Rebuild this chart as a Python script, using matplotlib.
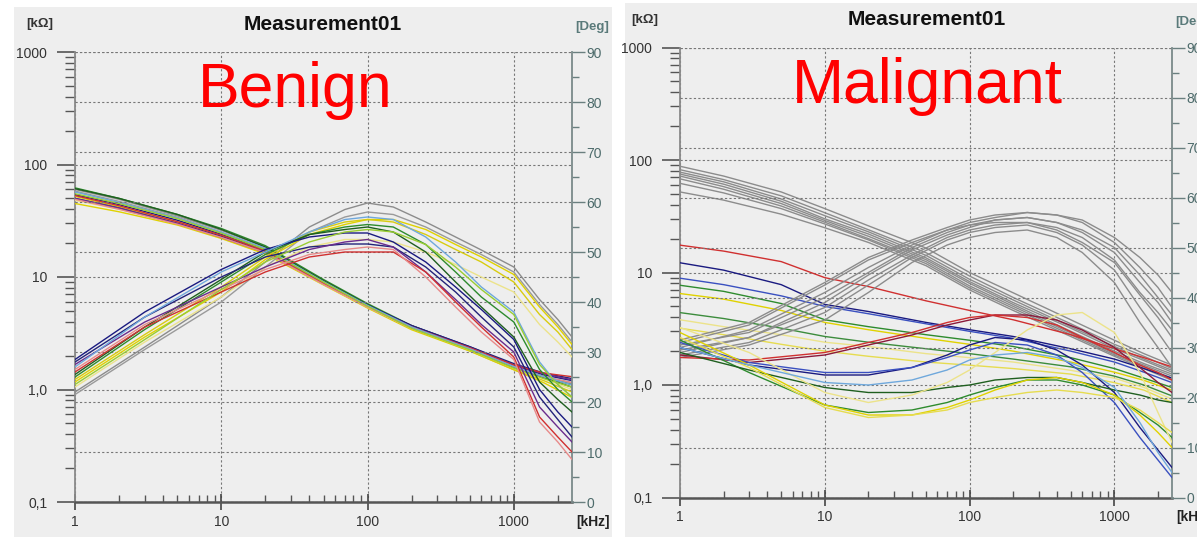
import matplotlib

matplotlib.use("Agg")
import matplotlib.pyplot as plt
from matplotlib.patches import Rectangle
from matplotlib.ticker import FixedLocator, FuncFormatter, LogLocator, MultipleLocator, NullFormatter

FREQ_MAG = [1, 2, 5, 10, 20, 50, 100, 200, 500, 1000, 1600, 2500]
FREQ_PHASE = [1, 3, 10, 20, 40, 70, 100, 150, 250, 400, 600, 1000, 1500, 2000, 2500]

# --- Benign: one colour per measurement, |Z| in kOhm and phase in degrees
BENIGN_COLORS = [
    "#8c8c8c", "#9a9a9a", "#e0d200", "#d8cc10", "#ece38a", "#2e8b2e", "#1f5f1f",
    "#1a1a80", "#23237a", "#6a2c8c", "#d03030", "#e88a8a", "#6fa8dc", "#9acd32",
]
BENIGN_MAG = [
    [60, 49, 35, 26, 18.5, 9.2, 5.6, 3.6, 2.3, 1.6, 1.3, 1.15],
    [58, 47, 34, 25, 18, 9.0, 5.5, 3.5, 2.25, 1.55, 1.28, 1.12],
    [45, 38, 29, 22, 16, 8.5, 5.3, 3.4, 2.2, 1.5, 1.15, 0.85],
    [52, 42, 31, 23.5, 17, 8.8, 5.4, 3.5, 2.2, 1.5, 1.2, 0.95],
    [48, 40, 30, 23, 16.5, 8.6, 5.4, 3.5, 2.25, 1.55, 1.25, 1.0],
    [62, 50, 36, 27, 19, 9.5, 5.8, 3.7, 2.35, 1.6, 1.3, 1.1],
    [61, 50, 36, 26.5, 18.5, 9.3, 5.7, 3.6, 2.3, 1.58, 1.28, 1.05],
    [54, 44, 32, 24, 17.5, 9.0, 5.6, 3.7, 2.4, 1.65, 1.35, 1.2],
    [50, 41, 30, 23, 17, 8.9, 5.6, 3.7, 2.4, 1.7, 1.4, 1.25],
    [50, 41, 30, 22.5, 16.5, 8.7, 5.5, 3.6, 2.35, 1.65, 1.38, 1.22],
    [53, 43, 31, 23.5, 17, 8.8, 5.5, 3.6, 2.35, 1.65, 1.4, 1.3],
    [49, 40, 29.5, 22.5, 16.5, 8.6, 5.4, 3.5, 2.3, 1.6, 1.3, 1.15],
    [57, 46, 33.5, 25, 18, 9.1, 5.6, 3.6, 2.3, 1.6, 1.3, 1.1],
    [55, 45, 33, 24.5, 17.5, 9.0, 5.5, 3.5, 2.25, 1.55, 1.25, 1.05],
]
BENIGN_PHASE = [
    [22, 31, 41, 48, 55, 58.5, 59.8, 59, 56, 53, 50.4, 47, 40.5, 36.5, 33],
    [21.5, 30.5, 40, 47, 54, 57, 58, 57.5, 55, 52, 49.5, 46, 39.5, 35.5, 32],
    [24, 33, 42, 48.5, 53.5, 55.5, 56.5, 56.5, 54.5, 51.5, 49, 45.5, 39, 35, 31.5],
    [24.5, 33.5, 43, 49, 54, 56, 56.5, 56, 53.5, 50.5, 48, 44, 37.5, 34, 30.5],
    [23, 32, 41, 47, 51, 52.5, 52.5, 52, 50, 47.5, 45, 42, 35.5, 32, 29],
    [25, 34.5, 44, 49.5, 53.5, 55, 55.5, 55, 51.5, 46, 41, 36, 26.5, 22.5, 20],
    [25.5, 35, 44.5, 50, 53.5, 54.5, 55, 54, 50, 44, 39, 33, 24, 20.5, 18],
    [28.5, 38, 46.5, 50.5, 53, 53.8, 53.8, 52, 48, 43, 38.5, 32.5, 22.5, 18, 15],
    [28, 37, 45, 49, 51, 51.6, 51.6, 51, 47, 42, 37, 31, 21, 16.5, 13],
    [27.5, 36, 43, 47, 50.5, 52, 52.5, 51, 46, 40.5, 35.5, 30, 19, 15, 12],
    [26, 35, 42, 46, 49, 50, 50, 50, 46, 40, 35, 29, 17, 13, 10],
    [26.5, 35.5, 42.5, 46.5, 49.5, 50.5, 51, 50.5, 45, 39, 34, 28.5, 16, 12, 8.5],
    [27, 37, 46, 50, 54, 56.5, 57, 56.5, 53, 48, 43, 38, 28, 23.5, 21],
    [23.5, 32.5, 42.5, 48, 52, 54, 54.5, 54, 51.5, 47, 42.5, 37.5, 27.5, 23.5, 21],
]

# --- Malignant: grey bundle (|Z| and phase)
MAL_GRAY_MAG = [
    [88, 72, 52, 37, 26, 16.5, 10.0, 6.6, 3.8, 2.5, 1.9, 1.5],
    [82, 67, 48, 34, 24, 15, 9.3, 6.0, 3.5, 2.3, 1.8, 1.4],
    [78, 64, 45, 32, 23, 14.2, 8.7, 5.7, 3.3, 2.2, 1.7, 1.35],
    [75, 61, 43, 30, 22, 13.5, 8.3, 5.4, 3.2, 2.1, 1.65, 1.3],
    [72, 58, 41, 29, 21, 13, 8.0, 5.2, 3.0, 2.0, 1.55, 1.25],
    [68, 55, 39, 28, 20, 12.5, 7.6, 5.0, 2.9, 1.9, 1.5, 1.2],
    [62, 51, 37, 27, 19.5, 12.0, 7.3, 4.8, 2.8, 1.85, 1.45, 1.15],
    [52, 44, 33, 25, 18.5, 11.5, 7.0, 4.6, 2.7, 1.8, 1.4, 1.1],
]
MAL_GRAY_PHASE = [
    [30, 33.5, 41, 46, 50.5, 53.5, 55, 56, 57, 56.5, 55, 51, 46, 42, 38],
    [29, 32, 39, 44.5, 49.5, 52.5, 54, 55.5, 56, 55, 53, 49, 43, 39, 35],
    [31, 34.5, 42.5, 47.5, 51, 53.5, 54.5, 55, 55, 53.5, 51, 47, 40.5, 36, 32],
    [28.5, 31, 37, 42.5, 48, 51.5, 53, 54, 54.5, 53, 50.5, 45.5, 38, 33, 29],
    [30.5, 33, 40, 45, 50, 53, 54.5, 55.5, 56, 55, 53.5, 50, 44.5, 40, 36.5],
    [28, 30.5, 35.5, 41, 47, 50.5, 52, 53, 53.5, 52, 49, 43, 35, 30, 26],
    [29.5, 32, 38, 43.5, 48.5, 52, 53.5, 54.5, 55, 54, 52, 47.5, 41, 37, 33.5],
    [31.5, 35, 43, 48, 51.5, 54, 55.5, 56.5, 57, 56.5, 55.5, 52, 48, 44.5, 41],
]

# --- Malignant: coloured measurements
MAL_MAG_COLORS = ["#d03030", "#1a1a80", "#3a50c0", "#2e8b2e", "#e0d200", "#3c8c3c", "#ece38a", "#e6dc50"]
MAL_MAG = [
    [17.5, 15.5, 12.5, 9.0, 7.5, 5.6, 4.6, 3.8, 2.8, 2.1, 1.75, 1.45],
    [12.2, 10.5, 7.8, 5.2, 4.5, 3.6, 3.1, 2.7, 2.1, 1.7, 1.4, 1.15],
    [8.9, 7.8, 6.2, 5.0, 4.3, 3.5, 3.0, 2.6, 2.0, 1.6, 1.3, 1.05],
    [7.7, 6.8, 5.3, 3.8, 3.3, 2.8, 2.5, 2.2, 1.75, 1.4, 1.15, 0.95],
    [6.5, 5.8, 4.6, 3.6, 3.1, 2.6, 2.3, 2.0, 1.6, 1.3, 1.1, 0.9],
    [4.4, 3.9, 3.2, 2.7, 2.4, 2.1, 1.9, 1.7, 1.45, 1.2, 1.0, 0.8],
    [3.8, 3.3, 2.8, 2.4, 2.2, 1.9, 1.75, 1.6, 1.35, 1.15, 0.95, 0.75],
    [3.2, 2.8, 2.3, 2.0, 1.8, 1.6, 1.5, 1.4, 1.25, 1.05, 0.9, 0.7],
]
MAL_PHASE_COLORS = [
    "#8b1a3a", "#d03030", "#1a1a80", "#3a50c0", "#2e8b2e",
    "#1f5f1f", "#e0d200", "#ece38a", "#e6dc50", "#6fa8dc",
]
MAL_PHASE = [
    [28.5, 27, 28.5, 30.5, 32.5, 34.5, 35.5, 36.5, 36.5, 35.5, 33.5, 30, 26, 23, 21],
    [28, 27.5, 29, 31, 33, 35, 36, 36.5, 36, 34.5, 32, 29, 26.5, 25, 23.5],
    [30, 26.5, 24.5, 24.5, 26, 28.5, 30.5, 32, 31.5, 29.5, 26.5, 21, 14, 9.5, 6],
    [31, 27, 25, 25, 26, 28, 29.5, 31, 30.5, 28.5, 25, 19, 12, 7.5, 4],
    [31.5, 25, 18.5, 17, 17.5, 19, 20.5, 22, 23.5, 23.5, 22.5, 20.5, 17, 14.5, 12],
    [29, 25.5, 22, 21, 21, 22, 22.5, 23.5, 24, 24, 23, 21.5, 20.5, 19.5, 19],
    [33, 26.5, 18.5, 16.5, 16.5, 18, 19.5, 21.5, 23.5, 24, 23, 20.5, 16.5, 13, 10],
    [34, 29, 21, 19, 20.5, 23, 25.5, 29, 33.5, 36.5, 37, 33, 25, 17, 11],
    [32, 26, 18, 16, 16.5, 17.5, 19, 20, 21, 21.5, 21, 20, 17.5, 15, 13],
    [30, 26.5, 23, 22.5, 23.5, 25.5, 27.5, 28.5, 29, 28, 26, 22, 15, 9, 5],
]

Y_TICKS = [0.1, 1, 10, 100, 1000]
Y_LABELS = ["0,1", "1,0", "10", "100", "1000"]
X_TICKS = [1, 10, 100, 1000]
X_LABELS = ["1", "10", "100", "1000"]

W, H = 1197, 537
PANEL_BG = "#eeeeee"
FONT = ["Liberation Sans", "DejaVu Sans"]
GRID = dict(color="#777777", linestyle=(0, (2, 2)), linewidth=0.8)


def frac(x0, y0, x1, y1):
    """Pixel box (top-left origin) -> figure fraction [l, b, w, h]."""
    return [x0 / W, 1 - y1 / H, (x1 - x0) / W, (y1 - y0) / H]


def ftext(fig, x, y, s, **kw):
    kw.setdefault("family", FONT)
    return fig.text(x / W, 1 - y / H, s, **kw)


def draw_panel(fig, frame, box, title_x, label, label_xy, mag_sets, phase_sets):
    fig.patches.append(Rectangle((frame[0] / W, 1 - frame[3] / H),
                                 (frame[2] - frame[0]) / W, (frame[3] - frame[1]) / H,
                                 transform=fig.transFigure, facecolor=PANEL_BG,
                                 edgecolor="none", zorder=-10))
    ax = fig.add_axes(frac(*box))
    ax.set_zorder(1)
    ax.set_facecolor(PANEL_BG)
    ax.set_xscale("log")
    ax.set_yscale("log")
    ax.set_xlim(1, 2500)
    ax.set_ylim(0.1, 1000)
    ax.set_axisbelow(True)

    ax2 = ax.twinx()
    ax2.set_zorder(2)
    ax2.patch.set_visible(False)
    ax2.set_ylim(0, 90)

    for colors, series, lw in mag_sets:
        for c, vals in zip(colors, series):
            ax.plot(FREQ_MAG, vals, color=c, lw=lw, solid_joinstyle="round", zorder=3)
    for colors, series, lw in phase_sets:
        for c, vals in zip(colors, series):
            ax2.plot(FREQ_PHASE, vals, color=c, lw=lw, solid_joinstyle="round", zorder=3)

    # grids
    ax.grid(True, which="major", axis="both", **GRID)
    ax2.yaxis.set_major_locator(MultipleLocator(10))
    ax2.yaxis.set_minor_locator(MultipleLocator(5))
    ax2.grid(True, which="major", axis="y", zorder=1, **GRID)

    # spines
    for s in ("top", "right"):
        ax.spines[s].set_visible(False)
    for s in ("top", "left", "bottom"):
        ax2.spines[s].set_visible(False)
    ax.spines["left"].set_color("#8a8a8a")
    ax.spines["left"].set_linewidth(1.3)
    ax.spines["bottom"].set_color("#555555")
    ax.spines["bottom"].set_linewidth(1.8)
    ax2.spines["right"].set_color("#7a8a8a")
    ax2.spines["right"].set_linewidth(1.3)

    # ticks
    ax.xaxis.set_major_locator(FixedLocator(X_TICKS))
    ax.xaxis.set_major_formatter(FuncFormatter(lambda v, _: dict(zip(X_TICKS, X_LABELS)).get(round(v), "")))
    ax.xaxis.set_minor_locator(LogLocator(base=10, subs=range(2, 10)))
    ax.xaxis.set_minor_formatter(NullFormatter())
    ax.yaxis.set_major_locator(FixedLocator(Y_TICKS))
    ax.yaxis.set_major_formatter(FuncFormatter(
        lambda v, _: Y_LABELS[min(range(len(Y_TICKS)), key=lambda i: abs(Y_TICKS[i] - v))]))
    ax.yaxis.set_minor_locator(LogLocator(base=10, subs=range(2, 10)))
    ax.yaxis.set_minor_formatter(NullFormatter())

    ax.tick_params(axis="x", which="major", direction="inout", length=12, width=1.2,
                   color="#444444", labelsize=10, labelcolor="#333333", pad=3)
    ax.tick_params(axis="x", which="minor", direction="in", length=5, width=1.0, color="#555555")
    ax.tick_params(axis="y", which="major", direction="out", length=13, width=1.2,
                   color="#555555", labelsize=10, labelcolor="#333333", pad=7)
    ax.tick_params(axis="y", which="minor", direction="out", length=7, width=1.0, color="#555555")
    ax2.tick_params(axis="y", which="major", direction="out", length=9, width=1.0,
                    color="#6a7f7f", labelsize=10, labelcolor="#4d6b6b", pad=1.5)
    ax2.tick_params(axis="y", which="minor", direction="out", length=5, width=1.0, color="#6a7f7f")
    ax2.tick_params(axis="x", which="both", bottom=False, top=False, labelbottom=False, labeltop=False)
    for t in ax.get_xticklabels() + ax.get_yticklabels() + ax2.get_yticklabels():
        t.set_family(FONT)

    x0, y0, x1, y1 = box
    ftext(fig, x0 - 35, y0 - 28, "[kΩ]", fontsize=9.5, fontweight="bold", color="#333333",
          ha="center", va="center")
    ftext(fig, title_x, y0 - 28, "Measurement01", fontsize=15, fontweight="bold", color="#111111",
          ha="center", va="center")
    ftext(fig, x1 + 3, y0 - 25, "[Deg]", fontsize=9.5, fontweight="bold", color="#5a7a7a",
          ha="left", va="center")
    ftext(fig, x1 + 4, y1 + 20, "[kHz]", fontsize=10, fontweight="bold", color="#222222",
          ha="left", va="center")
    ftext(fig, label_xy[0], label_xy[1], label, fontsize=45, color="#ff0000",
          ha="center", va="baseline", zorder=5)
    return ax, ax2


fig = plt.figure(figsize=(W / 100, H / 100), dpi=100, facecolor="white")

draw_panel(
    fig, frame=(14, 7, 612, 537), box=(75, 52, 572, 502), title_x=323,
    label="Benign", label_xy=(295, 107),
    mag_sets=[(BENIGN_COLORS, BENIGN_MAG, 1.0)],
    phase_sets=[(BENIGN_COLORS, BENIGN_PHASE, 1.0)],
)
draw_panel(
    fig, frame=(625, 3, 1197, 537), box=(680, 47.5, 1172, 497.5), title_x=927,
    label="Malignant", label_xy=(927, 103),
    mag_sets=[(["#8c8c8c"] * len(MAL_GRAY_MAG), MAL_GRAY_MAG, 1.0),
              (MAL_MAG_COLORS, MAL_MAG, 1.0)],
    phase_sets=[(["#8c8c8c"] * len(MAL_GRAY_PHASE), MAL_GRAY_PHASE, 1.0),
                (MAL_PHASE_COLORS, MAL_PHASE, 1.0)],
)

fig.savefig("out.png", dpi=100, facecolor="white")
